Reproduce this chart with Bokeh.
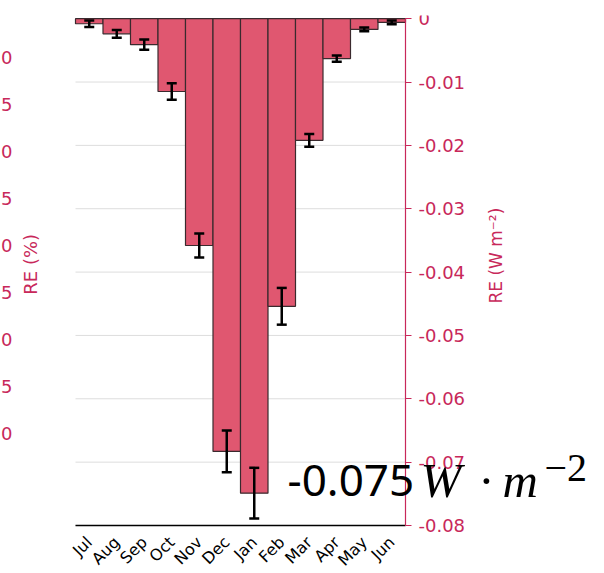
import math
from bokeh.plotting import figure
from bokeh.models import (Range1d, FixedTicker, ColumnDataSource, Whisker, TeeHead, Label,
                          CustomLabelingPolicy)
from bokeh.embed import file_html
from bokeh.resources import INLINE

# ---- data -------------------------------------------------------------
months = ["Jul", "Aug", "Sep", "Oct", "Nov", "Dec", "Jan", "Feb", "Mar", "Apr", "May", "Jun"]
re_wm2 = [-0.0008, -0.0024, -0.0041, -0.0115, -0.0358, -0.0683,
          -0.0749, -0.0454, -0.0192, -0.0063, -0.0017, -0.0006]
re_err = [0.0005, 0.0006, 0.0008, 0.0013, 0.0019, 0.0033,
          0.0040, 0.0029, 0.0010, 0.0005, 0.0003, 0.0003]
right_ticks = [0, -0.01, -0.02, -0.03, -0.04, -0.05, -0.06, -0.07, -0.08]
right_tick_labels = ["0", "-0.01", "-0.02", "-0.03", "-0.04", "-0.05", "-0.06", "-0.07", "-0.08"]
# cropped axis of the neighbouring panel (only the last characters are visible)
left_ticks = [-10, -15, -20, -25, -30, -35, -40, -45, -50]
left_tick_visible = ["0", "5", "0", "5", "0", "5", "0", "5", "0"]
annot_value = "-0.075"

CRIMSON = "#C8285A"
BAR = "#E05770"

idx = list(range(len(months)))
first, last = idx[0] - 0.5, idx[-1] + 0.5
y_top, y_bottom = 0.0005, right_ticks[-1]

src = ColumnDataSource(dict(
    x=idx, val=re_wm2,
    upper=[v + e for v, e in zip(re_wm2, re_err)],
    lower=[v - e for v, e in zip(re_wm2, re_err)],
))

# ---- layout (pixels) --------------------------------------------------
W, H = 604, 573
RIGHT_BORDER, TOP_BORDER, BOTTOM_BORDER = 8, 15, 3
PX_PER_BAR = 27.5
LEFT_PAD = 75            # px between canvas left and first bar
AXIS_PX = 510            # px between y_top and the x axis
FRAME_W = W - RIGHT_BORDER
FRAME_H = H - TOP_BORDER - BOTTOM_BORDER
x_start = first - LEFT_PAD / PX_PER_BAR
x_end = x_start + FRAME_W / PX_PER_BAR
units_per_px = (y_top - y_bottom) / AXIS_PX
y_start = y_top - FRAME_H * units_per_px

# neighbour panel's (cropped) percent axis: first tick 42 px below the top, 9.4 px per unit
PCT_FIRST_PX, PCT_PX_PER_UNIT = 42, 9.4
pct_end = left_ticks[0] + PCT_FIRST_PX / PCT_PX_PER_UNIT
pct_start = pct_end - FRAME_H / PCT_PX_PER_UNIT

p = figure(width=W, height=H, output_backend="svg", toolbar_location=None,
           x_range=Range1d(x_start, x_end),
           y_range=Range1d(y_start, y_top), y_axis_location="right",
           min_border_left=0, min_border_right=RIGHT_BORDER, min_border_top=TOP_BORDER,
           min_border_bottom=BOTTOM_BORDER)
p.outline_line_color = None
p.background_fill_color = "white"
p.border_fill_color = "white"
p.xgrid.visible = False
p.ygrid.visible = False

p.extra_y_ranges = {"pct": Range1d(pct_start, pct_end)}

# horizontal grid lines over the bar area only
p.segment(x0=[first] * len(right_ticks), x1=[last] * len(right_ticks),
          y0=right_ticks, y1=right_ticks, line_color="#dddddd", line_width=1,
          level="underlay")

p.vbar(x="x", top="val", bottom=0, width=1.0, source=src,
       fill_color=BAR, line_color="#3a2a2e", line_width=1.2)

w = Whisker(base="x", upper="upper", lower="lower", source=src,
            line_color="black", line_width=2.5,
            upper_head=TeeHead(size=10, line_width=2.5, line_color="black"),
            lower_head=TeeHead(size=10, line_width=2.5, line_color="black"))
w.level = "overlay"
p.add_layout(w)

# right axis (line + ticks at the right end of the bars); its labels are drawn as text
ya = p.yaxis[0]
ya.fixed_location = last
ya.bounds = (right_ticks[-1], right_ticks[0])
ya.ticker = FixedTicker(ticks=right_ticks)
ya.axis_line_color = CRIMSON
ya.axis_line_width = 1.2
ya.major_tick_line_color = CRIMSON
ya.major_tick_out = 6
ya.major_tick_in = 0
ya.minor_tick_line_color = None
ya.major_label_policy = CustomLabelingPolicy(code="return []")
ya.major_label_text_font_size = "0px"
ya.major_label_standoff = 0

p.text(x=[last] * len(right_ticks), y=right_ticks, text=right_tick_labels,
       x_offset=13, text_align="left", text_baseline="middle",
       text_color=CRIMSON, text_font={"value": "DejaVu Sans"}, text_font_size="18px")
p.add_layout(Label(x=last, y=-0.0374, x_offset=90, text="RE (W m⁻²)", angle=math.pi / 2,
                   text_align="center", text_baseline="middle", text_color=CRIMSON,
                   text_font="DejaVu Sans", text_font_size="17px"))

# bottom axis (line at y = -0.08); month labels drawn as rotated text
xa = p.xaxis[0]
xa.fixed_location = right_ticks[-1]
xa.ticker = FixedTicker(ticks=idx)
xa.bounds = (first, last)
xa.axis_line_color = "black"
xa.axis_line_width = 1.5
xa.major_tick_line_color = None
xa.major_tick_out = 0
xa.major_tick_in = 0
xa.minor_tick_line_color = None
xa.minor_tick_out = 0
xa.minor_tick_in = 0
xa.major_label_policy = CustomLabelingPolicy(code="return []")
xa.major_label_text_font_size = "0px"
xa.major_label_standoff = 0

month_label_y = right_ticks[-1] - 14 * units_per_px
p.text(x=idx, y=[month_label_y] * len(idx), text=months, angle=math.pi / 4,
       text_align="right", text_baseline="middle", text_color="black",
       text_font={"value": "DejaVu Sans"}, text_font_size="16px")

# cropped neighbour axis at the left edge
p.text(x=[x_start] * len(left_ticks), y=left_ticks, y_range_name="pct",
       text=left_tick_visible, x_offset=12, text_align="right", text_baseline="middle",
       text_color=CRIMSON, text_font={"value": "DejaVu Sans"}, text_font_size="18px")
p.add_layout(Label(x=x_start, y=-32, y_range_name="pct", x_offset=30, text="RE (%)",
                   angle=math.pi / 2, text_align="center", text_baseline="middle",
                   text_color=CRIMSON, text_font="DejaVu Sans", text_font_size="18px"))

# annotation
ann = dict(x_units="canvas", text_baseline="alphabetic", text_color="black")
p.add_layout(Label(x=287, y=-0.0729, text=annot_value, text_align="left",
                   text_font="Noto Sans", text_font_size="44px", **ann))
p.add_layout(Label(x=420, y=-0.0729, text="W", text_align="left",
                   text_font="Liberation Serif", text_font_style="italic",
                   text_font_size="49px", **ann))
p.add_layout(Label(x=486, y=-0.0729, text="·", text_align="center",
                   text_font="Liberation Serif", text_font_size="49px", **ann))
p.add_layout(Label(x=502, y=-0.0729, text="m", text_align="left",
                   text_font="Liberation Serif", text_font_style="italic",
                   text_font_size="49px", **ann))
p.add_layout(Label(x=544, y=-0.0710, text="−2", text_align="left",
                   text_font="Liberation Serif", text_font_size="40px", **ann))

open("out.html", "w").write(file_html(p, INLINE))
